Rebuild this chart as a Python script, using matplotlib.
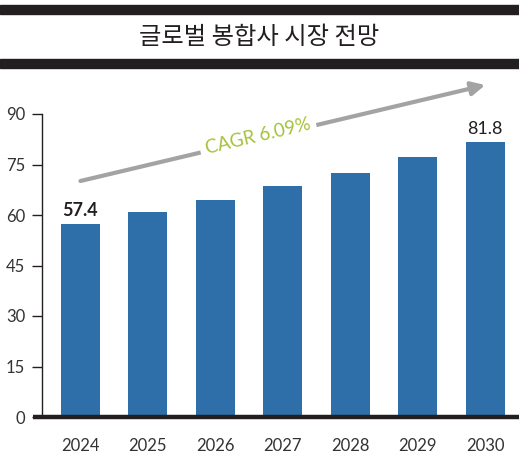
import matplotlib
matplotlib.use("Agg")
import matplotlib.pyplot as plt
from matplotlib.patches import Rectangle

# data
years = ["2024", "2025", "2026", "2027", "2028", "2029", "2030"]
market = [57.4, 60.9, 64.6, 68.5, 72.6, 77.1, 81.8]
y_ticks = [0, 15, 30, 45, 60, 75, 90]
title = "글로벌 봉합사 시장 전망"
cagr_label = "CAGR 6.09%"

plt.rcParams['font.family'] = ['Lato', 'Noto Sans CJK KR', 'DejaVu Sans']

BAR = '#2e6fa9'
DARK = '#231f20'
GRAY = '#a3a3a3'
GREEN = '#a5c23b'

W, H = 519, 457
fig = plt.figure(figsize=(W / 100, H / 100), dpi=100)

# black bands around the title
fig.patches.append(Rectangle((0, 1 - 14 / H), 1, 9 / H, transform=fig.transFigure,
                             color=DARK, zorder=0))
fig.patches.append(Rectangle((0, 1 - 68 / H), 1, 9 / H, transform=fig.transFigure,
                             color=DARK, zorder=0))
fig.text(0.5, 1 - 37 / H, title, ha='center', va='center', fontsize=17.5,
         family=['Noto Sans CJK KR', 'DejaVu Sans'], color=DARK)

left, right = 42 / W, 1.0
bottom, top = 1 - 417 / H, 1 - 114 / H
ax = fig.add_axes([left, bottom, right - left, top - bottom])

x = list(range(len(years)))
ax.bar(x, market, width=0.58, color=BAR, zorder=2)
ax.set_xlim(-0.57, 6.5)
ax.set_ylim(0, 90)

ax.set_yticks(y_ticks)
ax.set_yticklabels([str(t) for t in y_ticks])
ax.set_xticks(x)
ax.set_xticklabels(years)
ax.tick_params(axis='y', direction='out', length=7, width=1, color=DARK,
               labelsize=12, labelcolor='#333333', pad=5)
ax.tick_params(axis='x', length=0, labelsize=12, labelcolor='#333333', pad=15)

for s in ['top', 'right', 'bottom']:
    ax.spines[s].set_visible(False)
ax.spines['left'].set_color(DARK)
ax.spines['left'].set_linewidth(1)

# heavy baseline, sticking out a bit to the left of the y axis
ax.plot([-0.019, 1.0], [0, 0], transform=ax.transAxes, color=DARK, lw=3.2,
        clip_on=False, zorder=3, solid_capstyle='butt')

# value labels on first and last bar
ax.text(x[0], market[0] + 1.5, f"{market[0]}", ha='center', va='bottom',
        fontsize=13, fontweight='bold', color=DARK)
ax.text(x[-1], market[-1] + 1.5, f"{market[-1]}", ha='center', va='bottom',
        fontsize=13, color=DARK)

# CAGR arrow
ax.annotate("", xy=(6.0, 98.6), xytext=(0.0, 70.1), annotation_clip=False,
            arrowprops=dict(arrowstyle='-|>', color=GRAY, lw=3,
                            mutation_scale=20, shrinkA=0, shrinkB=0))
ax.text(2.63, 83.4, cagr_label, ha='center', va='center', rotation=13.3,
        rotation_mode='anchor', fontsize=13.5, color=GREEN, zorder=4,
        bbox=dict(boxstyle='square,pad=0.3', fc='white', ec='none'))

fig.savefig("out.png", dpi=100)
